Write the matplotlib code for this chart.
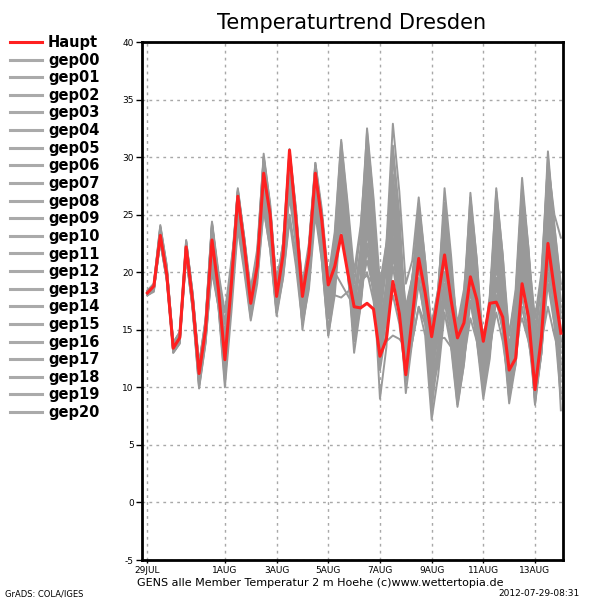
import numpy as np
import pandas as pd
import matplotlib
matplotlib.use("Agg")
import matplotlib.pyplot as plt

# 6-hourly time steps, 29 Jul 2012 00Z .. 14 Aug 2012 00Z
times = pd.date_range("2012-07-29 00:00", periods=65, freq="6h")

tick_dates = ["2012-07-29", "2012-08-01", "2012-08-03", "2012-08-05",
              "2012-08-07", "2012-08-09", "2012-08-11", "2012-08-13"]
tick_labels = ["29JUL", "1AUG", "3AUG", "5AUG", "7AUG", "9AUG", "11AUG", "13AUG"]
y_ticks = [-5, 0, 5, 10, 15, 20, 25, 30, 35, 40]

# Hauptlauf (control run)
haupt = [18.2, 18.8, 23.2, 19.8, 13.4, 14.3, 22.2, 17.5, 11.2, 15.0, 22.8, 18.5,
         12.4, 19.0, 26.6, 22.3, 17.3, 20.5, 28.6, 25.0, 17.9, 21.5, 30.6, 24.5,
         17.9, 21.5, 28.6, 24.5, 18.9, 20.5, 23.2, 20.0, 17.0, 16.9, 17.3, 16.8,
         12.7, 14.2, 19.2, 16.4, 11.1, 16.1, 21.2, 18.2, 14.4, 17.9, 21.5, 17.6,
         14.3, 15.6, 19.6, 17.6, 14.0, 17.3, 17.4, 16.1, 11.5, 12.5, 19.0, 16.1,
         9.8, 14.4, 22.5, 18.5, 14.7]

# ensemble members
gep00 = [18.1, 18.6, 23.5, 20.0, 13.6, 14.5, 22.0, 17.8, 11.5, 15.3, 23.0, 18.7,
         12.8, 19.4, 26.9, 22.6, 17.6, 21.0, 29.2, 25.3, 18.3, 22.0, 29.8, 24.0,
         17.5, 21.0, 28.0, 23.5, 18.0, 21.5, 27.5, 22.0, 16.5, 19.0, 25.0, 20.5,
         14.0, 17.5, 24.0, 19.0, 13.0, 16.5, 22.5, 18.0, 12.0, 16.0, 24.0, 19.0,
         13.5, 17.0, 22.0, 17.5, 12.5, 15.5, 23.5, 18.5, 13.0, 16.0, 24.0, 19.5,
         13.5, 17.0, 26.0, 20.0, 16.0]
gep01 = [18.3, 18.9, 23.0, 19.6, 13.2, 14.0, 22.4, 17.3, 11.0, 14.6, 22.5, 18.2,
         12.0, 18.6, 26.2, 22.0, 17.0, 20.2, 28.3, 24.6, 17.5, 21.0, 30.3, 25.2,
         18.5, 22.0, 29.3, 25.0, 19.3, 23.0, 31.3, 25.5, 19.0, 23.5, 32.2, 26.0,
         17.0, 22.0, 30.0, 24.0, 15.5, 19.0, 25.0, 20.0, 14.0, 18.0, 22.0, 18.5,
         15.0, 17.5, 20.5, 17.0, 13.0, 15.0, 19.5, 16.5, 11.0, 13.5, 21.0, 17.0,
         12.0, 16.0, 25.5, 20.0, 17.0]
gep02 = [18.0, 18.4, 23.8, 20.3, 13.8, 14.8, 21.6, 17.0, 10.4, 14.2, 21.5, 17.5,
         11.5, 18.0, 25.5, 21.0, 16.5, 19.8, 27.0, 23.5, 17.0, 20.5, 28.5, 23.0,
         16.5, 20.0, 27.0, 22.5, 17.5, 21.0, 29.0, 24.0, 18.0, 22.0, 30.0, 24.5,
         16.0, 20.5, 28.0, 22.5, 14.0, 18.0, 24.5, 19.5, 12.5, 16.5, 23.0, 18.0,
         11.0, 15.0, 21.5, 17.0, 11.5, 15.5, 22.0, 17.5, 12.0, 16.5, 23.5, 18.5,
         11.5, 16.0, 27.0, 21.0, 13.5]
gep03 = [18.4, 19.0, 24.1, 20.5, 13.0, 13.8, 22.7, 18.0, 11.8, 15.6, 24.3, 19.5,
         13.5, 20.0, 27.3, 23.0, 18.0, 21.5, 30.3, 25.8, 18.5, 22.5, 30.6, 25.0,
         18.0, 21.5, 29.0, 24.0, 17.0, 20.5, 26.0, 21.5, 15.0, 18.5, 23.5, 19.0,
         12.5, 16.0, 20.5, 17.0, 11.5, 15.0, 19.0, 16.0, 10.5, 13.5, 18.5, 15.5,
         10.0, 13.0, 20.0, 16.0, 11.0, 14.5, 21.5, 17.0, 10.5, 14.0, 22.0, 17.5,
         10.0, 14.5, 24.5, 19.0, 12.0]
gep04 = [18.2, 18.7, 22.8, 19.5, 13.5, 14.2, 21.4, 16.8, 9.9, 13.8, 20.5, 17.0,
         10.5, 17.5, 24.5, 20.5, 16.0, 19.5, 26.5, 22.5, 16.5, 20.0, 27.5, 22.5,
         16.0, 19.5, 26.5, 22.0, 16.5, 20.0, 28.0, 23.0, 17.5, 21.0, 29.5, 24.0,
         18.0, 22.5, 32.9, 27.0, 19.0, 21.0, 26.5, 21.0, 15.0, 18.5, 26.0, 20.5,
         14.0, 17.5, 24.0, 19.0, 12.0, 16.0, 25.0, 19.5, 12.5, 17.0, 26.5, 20.5,
         14.0, 19.0, 30.5, 24.0, 18.5]
gep05 = [18.1, 18.5, 23.4, 20.1, 13.4, 14.4, 22.3, 17.6, 11.3, 15.1, 22.9, 18.4,
         12.6, 19.2, 26.4, 22.2, 17.4, 20.6, 28.8, 24.8, 17.8, 21.3, 29.5, 24.0,
         17.0, 20.8, 27.5, 23.5, 18.5, 18.0, 17.8, 18.3, 18.8, 19.3, 19.7, 19.0,
         13.0, 14.0, 14.5, 14.2, 13.5, 14.0, 17.0, 15.5, 12.5, 14.2, 14.3, 13.5,
         11.0, 12.5, 16.0, 14.0, 10.0, 13.0, 18.0, 15.0, 11.0, 14.0, 20.0, 16.0,
         10.5, 15.0, 23.0, 18.0, 14.0]
gep06 = [18.3, 18.8, 23.6, 20.2, 13.7, 14.6, 22.5, 17.9, 11.6, 15.4, 24.0, 19.5,
         14.0, 20.5, 27.0, 23.0, 18.5, 22.0, 30.0, 25.5, 19.0, 22.5, 29.5, 25.0,
         19.0, 22.5, 29.5, 25.5, 19.5, 23.5, 31.5, 26.0, 20.0, 24.0, 31.0, 25.0,
         18.5, 21.0, 27.0, 22.5, 17.0, 19.5, 23.5, 19.0, 14.5, 17.0, 20.0, 16.5,
         12.5, 14.5, 18.5, 15.5, 12.0, 14.0, 17.5, 15.0, 9.5, 12.0, 18.0, 14.5,
         9.0, 13.0, 20.0, 15.5, 9.0]
gep07 = [18.0, 18.5, 22.6, 19.3, 13.3, 14.1, 21.8, 17.2, 10.8, 14.5, 20.0, 17.0,
         12.5, 18.0, 24.0, 20.5, 16.5, 19.5, 25.5, 22.0, 16.5, 19.5, 25.0, 21.5,
         15.5, 19.0, 26.0, 21.5, 15.0, 19.0, 27.0, 22.0, 15.5, 19.5, 28.5, 23.0,
         14.5, 19.0, 30.5, 24.0, 15.0, 18.5, 25.5, 20.0, 13.5, 17.5, 25.0, 19.5,
         12.0, 16.5, 25.5, 20.0, 13.5, 18.0, 27.0, 21.5, 14.5, 18.5, 28.2, 22.0,
         15.0, 19.5, 29.0, 23.0, 17.5]
gep08 = [18.2, 18.9, 23.1, 19.7, 13.1, 13.9, 21.9, 17.4, 11.1, 14.9, 23.6, 19.0,
         13.0, 19.5, 27.1, 22.8, 17.8, 21.2, 29.6, 25.5, 18.0, 21.8, 30.0, 25.0,
         17.8, 21.5, 28.5, 24.0, 17.0, 20.0, 24.5, 20.0, 14.5, 17.5, 22.0, 18.0,
         11.5, 15.0, 21.5, 17.5, 10.5, 14.5, 22.0, 17.5, 11.0, 15.0, 23.5, 18.5,
         10.5, 14.5, 23.0, 18.0, 11.5, 15.5, 24.5, 19.5, 13.5, 17.0, 25.5, 20.0,
         12.5, 16.5, 26.5, 20.5, 15.0]
gep09 = [18.4, 18.9, 23.9, 20.4, 13.9, 14.7, 22.6, 18.2, 12.0, 15.8, 24.4, 20.0,
         16.5, 21.0, 25.0, 21.5, 18.5, 21.0, 26.0, 22.5, 19.5, 22.0, 27.0, 23.0,
         18.5, 21.5, 26.5, 22.0, 17.5, 20.5, 25.5, 21.0, 16.0, 19.5, 26.0, 21.0,
         15.0, 18.5, 25.5, 20.5, 14.5, 18.0, 24.0, 19.0, 13.0, 16.5, 21.0, 17.0,
         12.5, 15.0, 17.5, 14.5, 11.0, 13.5, 16.5, 14.0, 10.0, 12.5, 17.0, 14.0,
         10.5, 13.5, 19.0, 15.5, 10.5]
gep10 = [18.1, 18.6, 22.9, 19.4, 13.2, 14.0, 21.7, 17.1, 10.2, 14.0, 21.0, 17.3,
         11.0, 18.5, 26.0, 22.0, 17.0, 20.5, 29.0, 25.0, 17.5, 21.5, 30.7, 25.5,
         18.0, 22.0, 29.5, 25.0, 18.5, 22.5, 30.5, 25.0, 17.5, 21.0, 28.0, 23.0,
         15.5, 19.0, 26.5, 21.5, 13.5, 17.5, 26.0, 21.0, 14.0, 18.0, 27.3, 21.5,
         14.5, 18.0, 26.5, 21.0, 13.5, 17.5, 26.0, 20.5, 12.0, 16.0, 24.5, 19.0,
         11.0, 15.5, 28.0, 22.0, 16.5]
gep11 = [18.3, 18.7, 23.3, 19.9, 13.5, 14.3, 22.1, 17.7, 11.4, 15.2, 23.2, 18.8,
         12.2, 19.0, 26.7, 22.4, 17.2, 20.4, 28.5, 24.5, 17.6, 21.2, 29.0, 24.5,
         17.5, 21.0, 28.5, 24.0, 18.0, 20.0, 19.0, 18.0, 17.0, 18.5, 21.0, 18.5,
         13.0, 16.5, 23.0, 18.5, 12.0, 15.5, 20.5, 16.5, 9.5, 12.0, 17.5, 14.0,
         8.5, 12.0, 18.5, 14.5, 9.5, 13.0, 19.5, 15.5, 9.0, 12.5, 20.5, 16.0,
         8.5, 13.0, 22.0, 17.0, 11.0]
gep12 = [18.2, 18.6, 23.7, 20.2, 13.8, 14.5, 22.8, 18.1, 11.7, 15.5, 24.1, 19.6,
         14.5, 20.0, 26.5, 22.5, 18.0, 21.5, 28.0, 24.0, 18.0, 21.0, 27.5, 23.5,
         17.0, 20.5, 27.0, 22.5, 16.0, 20.0, 29.5, 24.0, 16.5, 21.0, 30.5, 24.5,
         16.5, 21.0, 31.0, 25.0, 16.0, 19.5, 25.0, 20.0, 12.5, 15.5, 18.0, 15.0,
         11.5, 14.0, 19.5, 15.5, 10.5, 14.5, 20.5, 16.5, 11.5, 15.0, 21.5, 17.0,
         13.0, 17.5, 23.5, 19.5, 20.0]
gep13 = [18.0, 18.4, 23.0, 19.6, 13.1, 13.9, 21.5, 16.9, 10.6, 14.3, 22.0, 17.8,
         11.8, 18.2, 25.8, 21.5, 16.3, 19.7, 27.5, 23.5, 16.8, 20.5, 28.0, 23.0,
         15.0, 19.0, 26.0, 21.0, 14.5, 18.0, 25.0, 20.5, 13.0, 17.0, 24.0, 19.5,
         9.0, 13.5, 22.5, 17.5, 9.5, 14.0, 22.5, 17.5, 8.0, 13.0, 24.5, 18.0,
         9.5, 14.0, 22.5, 17.0, 10.0, 14.5, 23.0, 17.5, 9.0, 13.5, 23.0, 17.5,
         8.5, 14.0, 25.0, 19.0, 8.0]
gep14 = [18.4, 19.0, 24.0, 20.6, 13.6, 14.6, 22.4, 17.9, 11.9, 15.7, 23.8, 19.2,
         13.2, 19.8, 27.2, 22.9, 17.8, 21.5, 30.0, 26.0, 18.7, 22.5, 30.4, 25.5,
         18.5, 22.0, 29.0, 24.5, 18.0, 21.5, 29.0, 24.0, 17.5, 22.0, 32.5, 26.5,
         19.0, 22.5, 27.5, 22.0, 16.5, 19.5, 24.5, 19.5, 15.5, 18.5, 25.5, 20.0,
         15.5, 18.5, 24.5, 19.0, 14.0, 17.5, 25.5, 20.5, 14.5, 18.0, 27.0, 21.5,
         16.0, 20.0, 29.5, 25.0, 23.0]
gep15 = [18.1, 18.5, 22.7, 19.3, 13.0, 13.8, 21.4, 16.8, 10.0, 13.9, 20.8, 17.0,
         10.0, 16.5, 23.8, 20.0, 15.8, 19.0, 25.5, 22.0, 16.2, 19.5, 24.5, 20.5,
         15.5, 18.5, 25.0, 21.0, 14.5, 18.5, 26.5, 21.5, 14.0, 18.5, 27.0, 22.0,
         13.5, 17.5, 24.5, 19.5, 12.5, 16.5, 23.5, 18.5, 11.5, 15.5, 22.5, 17.5,
         13.0, 16.5, 21.0, 17.0, 12.5, 15.5, 18.0, 15.5, 12.0, 14.5, 16.0, 14.0,
         11.5, 14.0, 17.0, 14.5, 12.5]
gep16 = [18.3, 18.8, 23.5, 20.0, 13.4, 14.2, 22.2, 17.6, 11.2, 15.0, 23.4, 19.0,
         12.9, 19.6, 27.0, 22.7, 17.7, 21.0, 29.8, 25.2, 17.9, 21.7, 30.2, 25.0,
         17.8, 21.8, 29.2, 25.0, 18.5, 22.0, 28.0, 23.0, 16.0, 19.0, 20.0, 17.5,
         13.5, 16.0, 18.0, 15.5, 11.0, 14.0, 17.0, 14.5, 7.2, 11.0, 16.5, 13.5,
         8.3, 12.0, 17.5, 14.0, 9.0, 12.5, 19.0, 15.0, 8.6, 12.0, 19.5, 15.5,
         9.0, 13.0, 21.0, 16.5, 9.5]
gep17 = [18.2, 18.6, 22.6, 19.5, 13.3, 14.1, 21.6, 17.0, 10.5, 14.4, 21.8, 17.6,
         11.2, 18.4, 25.3, 21.2, 16.8, 20.0, 27.8, 23.8, 17.2, 20.8, 28.8, 24.0,
         16.8, 20.5, 28.0, 23.5, 17.0, 20.5, 27.0, 22.5, 15.5, 18.5, 26.5, 21.5,
         14.0, 18.0, 27.5, 22.0, 13.0, 17.0, 25.5, 20.0, 12.0, 16.0, 26.0, 20.5,
         13.0, 17.0, 26.9, 21.0, 12.5, 17.0, 27.3, 21.5, 13.0, 17.5, 27.5, 22.0,
         12.5, 17.5, 30.0, 24.0, 19.0]
gep18 = [18.0, 18.3, 23.2, 19.8, 13.6, 14.5, 22.0, 17.5, 11.0, 14.8, 22.3, 18.0,
         12.0, 18.8, 26.3, 22.1, 17.1, 20.3, 28.0, 24.0, 17.4, 21.0, 29.2, 24.5,
         17.2, 20.7, 27.8, 23.0, 16.0, 19.5, 28.5, 23.5, 15.0, 18.0, 24.5, 20.0,
         12.0, 16.5, 26.0, 20.5, 12.5, 16.0, 21.5, 17.0, 10.0, 13.5, 20.0, 15.5,
         9.0, 12.5, 21.0, 16.0, 10.0, 13.5, 22.5, 17.0, 10.5, 14.0, 22.5, 17.5,
         9.5, 14.0, 24.0, 18.5, 11.5]
gep19 = [18.3, 18.9, 23.8, 20.3, 13.9, 14.8, 22.7, 18.2, 12.0, 15.9, 24.2, 19.8,
         15.5, 20.5, 26.0, 22.0, 18.5, 21.5, 27.0, 23.5, 18.5, 21.5, 26.5, 22.5,
         17.0, 20.5, 26.0, 22.0, 17.5, 20.5, 24.0, 20.0, 14.0, 17.0, 22.5, 18.5,
         12.5, 16.5, 24.5, 19.0, 11.5, 15.0, 19.5, 15.5, 9.0, 13.0, 19.0, 15.0,
         10.0, 13.5, 20.0, 15.5, 10.5, 14.0, 21.0, 16.0, 10.0, 13.0, 21.5, 16.5,
         11.0, 15.0, 23.0, 18.0, 13.0]
gep20 = [18.2, 18.8, 23.4, 20.0, 13.4, 14.3, 22.3, 17.6, 11.3, 15.1, 22.7, 18.4,
         12.4, 19.1, 26.8, 22.5, 17.5, 20.8, 29.0, 25.0, 18.0, 21.5, 29.0, 24.0,
         16.5, 20.0, 27.0, 22.5, 16.5, 19.5, 26.0, 21.5, 14.5, 18.0, 25.5, 20.5,
         13.0, 17.0, 28.5, 23.0, 14.0, 17.5, 23.0, 18.5, 11.0, 14.5, 23.0, 17.5,
         11.5, 15.5, 24.0, 18.5, 11.5, 16.0, 25.5, 19.5, 11.5, 16.0, 26.0, 20.5,
         10.5, 15.5, 27.5, 21.0, 14.0]

members = [gep00, gep01, gep02, gep03, gep04, gep05, gep06, gep07, gep08, gep09,
           gep10, gep11, gep12, gep13, gep14, gep15, gep16, gep17, gep18, gep19,
           gep20]
member_names = ["gep%02d" % k for k in range(len(members))]

RED = "#ff2020"
GRAY = "#999999"
GRID = "#a8a8a8"

fig = plt.figure(figsize=(6, 6), dpi=100)
ax = fig.add_axes([142 / 600, 40 / 600, 421 / 600, 518 / 600])

handles = []
for name, vals in zip(member_names, members):
    ln, = ax.plot(times, vals, color=GRAY, lw=1.4)
    handles.append(ln)
h_haupt, = ax.plot(times, haupt, color=RED, lw=2.2, zorder=5)

ax.set_xlim(times[0] - pd.Timedelta(hours=5), times[-1] + pd.Timedelta(hours=2))
ax.set_ylim(-5, 40)

ax.set_yticks(y_ticks)
ax.set_yticklabels([str(v) for v in y_ticks])
ax.set_xticks(pd.to_datetime(tick_dates))
ax.set_xticklabels(tick_labels)
ax.tick_params(axis="both", labelsize=6.5, length=4, width=1, direction="out",
               pad=2, colors="black")
ax.tick_params(axis="x", length=2, pad=2)

ax.grid(True, color=GRID, lw=1, linestyle=(0, (2, 3)))
ax.set_axisbelow(True)
for sp in ax.spines.values():
    sp.set_linewidth(2)

fig.text(352 / 600, 1 - 23 / 600, "Temperaturtrend Dresden", ha="center",
         va="center", fontsize=15)

fig.legend([h_haupt] + handles, ["Haupt"] + member_names, loc="upper left",
           bbox_to_anchor=(10 / 600, 1 - 35 / 600), frameon=False,
           prop={"size": 10.5, "weight": "bold"}, handlelength=2.2,
           handletextpad=0.4, labelspacing=0.18, borderaxespad=0,
           borderpad=0)
leg = fig.legends[0]
for ln in leg.get_lines():
    ln.set_linewidth(2.2)
leg.get_lines()[0].set_color(RED)
for ln in leg.get_lines()[1:]:
    ln.set_color("#aaaaaa")

fig.text(320 / 600, 1 - 583 / 600,
         "GENS alle Member Temperatur 2 m Hoehe (c)www.wettertopia.de",
         ha="center", va="center", fontsize=8)
fig.text(5 / 600, 1 - 594 / 600, "GrADS: COLA/IGES", ha="left", va="center",
         fontsize=6)
fig.text(580 / 600, 1 - 594 / 600, "2012-07-29-08:31", ha="right", va="center",
         fontsize=6.5)

fig.savefig("out.png", dpi=100)
